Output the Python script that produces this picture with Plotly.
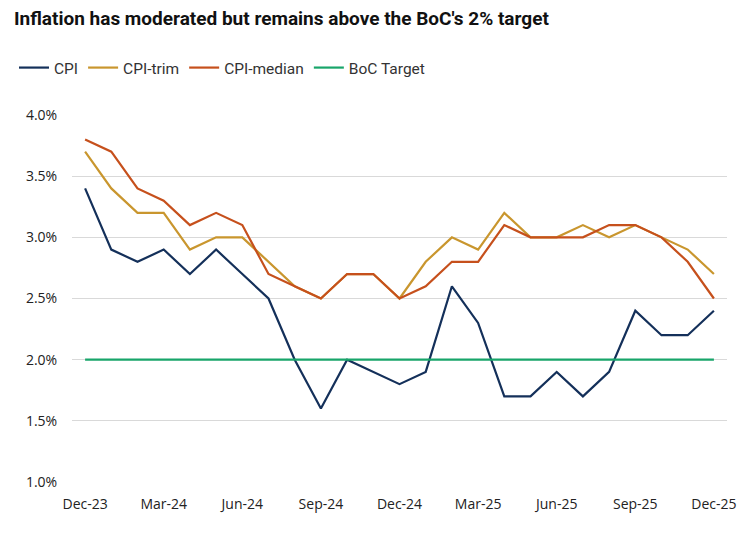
import plotly.graph_objects as go

months = ["Dec-23", "Jan-24", "Feb-24", "Mar-24", "Apr-24", "May-24", "Jun-24", "Jul-24",
          "Aug-24", "Sep-24", "Oct-24", "Nov-24", "Dec-24", "Jan-25", "Feb-25", "Mar-25",
          "Apr-25", "May-25", "Jun-25", "Jul-25", "Aug-25", "Sep-25", "Oct-25", "Nov-25", "Dec-25"]

cpi = [3.4, 2.9, 2.8, 2.9, 2.7, 2.9, 2.7, 2.5, 2.0, 1.6, 2.0, 1.9, 1.8,
       1.9, 2.6, 2.3, 1.7, 1.7, 1.9, 1.7, 1.9, 2.4, 2.2, 2.2, 2.4]
cpi_trim = [3.7, 3.4, 3.2, 3.2, 2.9, 3.0, 3.0, 2.8, 2.6, 2.5, 2.7, 2.7, 2.5,
            2.8, 3.0, 2.9, 3.2, 3.0, 3.0, 3.1, 3.0, 3.1, 3.0, 2.9, 2.7]
cpi_median = [3.8, 3.7, 3.4, 3.3, 3.1, 3.2, 3.1, 2.7, 2.6, 2.5, 2.7, 2.7, 2.5,
              2.6, 2.8, 2.8, 3.1, 3.0, 3.0, 3.0, 3.1, 3.1, 3.0, 2.8, 2.5]
boc_target = [2.0] * len(months)

tick_labels = ["Dec-23", "Mar-24", "Jun-24", "Sep-24", "Dec-24", "Mar-25", "Jun-25", "Sep-25", "Dec-25"]
y_ticks = [1.0, 1.5, 2.0, 2.5, 3.0, 3.5, 4.0]

series = [
    ("CPI", cpi, "#14305a"),
    ("CPI-trim", cpi_trim, "#c9962e"),
    ("CPI-median", cpi_median, "#c6501c"),
    ("BoC Target", boc_target, "#18a56a"),
]

fig = go.Figure()
for name, vals, color in series:
    fig.add_trace(go.Scatter(x=months, y=[v / 100 for v in vals], name=name, mode="lines",
                             line=dict(color=color, width=2.2)))

# page body has an 8px margin, so the figure is 8px smaller and offsets are shifted
W, H, OFF = 740, 535, 8
fig.update_layout(
    width=W, height=H,
    margin=dict(l=72 - OFF, r=21, t=115 - OFF, b=61, autoexpand=False),
    paper_bgcolor="white", plot_bgcolor="white",
    font=dict(family="Open Sans, sans-serif", size=13, color="#222222"),
    title=dict(text="<b>Inflation has moderated but remains above the BoC's 2% target</b>",
               x=(14 - OFF) / W, xanchor="left", xref="container",
               y=1 - (18 - OFF) / H, yanchor="middle", yref="container",
               font=dict(family="Roboto, sans-serif", size=19, color="#111111")),
    legend=dict(orientation="h", x=(14 - 72) / 655, xanchor="left",
                y=1 + (115 - 68) / 367, yanchor="middle",
                font=dict(family="Roboto, sans-serif", size=15.5, color="#333333"),
                itemwidth=30, bgcolor="rgba(0,0,0,0)"),
    showlegend=True,
)
fig.update_xaxes(type="category", range=[-0.5, len(months) - 0.5],
                 tickmode="array", tickvals=tick_labels, ticktext=tick_labels,
                 showgrid=False, showline=False, ticks="outside", ticklen=9, tickcolor="rgba(0,0,0,0)",
                 tickfont=dict(size=14, color="#222222"))
fig.update_yaxes(range=[0.01, 0.04], tickvals=[v / 100 for v in y_ticks], tickformat=".1%",
                 showgrid=True, gridcolor="#d9d9d9", gridwidth=1, zeroline=False,
                 showline=False, ticks="outside", ticklen=11, tickcolor="rgba(0,0,0,0)",
                 tickfont=dict(size=14, color="#222222"))

fig.write_html("out.html")
